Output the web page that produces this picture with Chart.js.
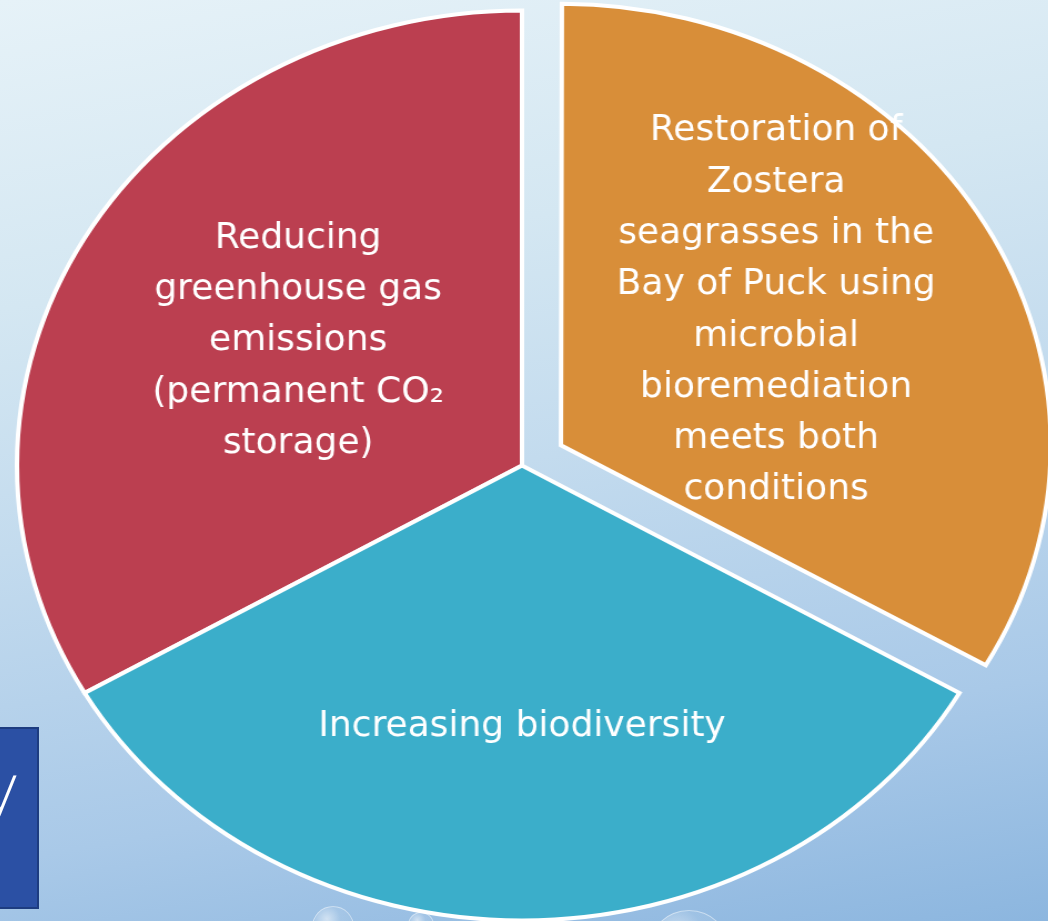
<!DOCTYPE html>
<html>
<head>
<meta charset="utf-8">
<script src="https://cdn.jsdelivr.net/npm/chart.js@4/dist/chart.umd.min.js"></script>
<style>
html,body{margin:0;padding:0;width:1048px;height:921px;overflow:hidden;}
body{position:relative;font-family:"DejaVu Sans",sans-serif;
  background:linear-gradient(170deg,#e6f2f8 0%,#d4e7f2 28%,#c3dbee 50%,#a9c9e8 78%,#8cb6df 100%);}
canvas.pie{position:absolute;left:0;top:0;transform-origin:522px 0;transform:scaleX(1.11);}
#box{position:absolute;left:-10px;top:727px;width:45px;height:178px;background:#2b50a4;border:2px solid #1d3c80;overflow:hidden;}
#box span{position:absolute;left:-11px;top:28px;font-size:66px;line-height:66px;color:#fff;font-family:"DejaVu Sans",sans-serif;font-weight:200;}
.bubble{position:absolute;border-radius:50%;border:1px solid rgba(255,255,255,0.45);
  background:radial-gradient(circle at 35% 30%,rgba(255,255,255,0.55) 0%,rgba(255,255,255,0.1) 35%,rgba(160,190,220,0.2) 100%);}
</style>
</head>
<body>
<div class="bubble" style="left:312px;top:906px;width:40px;height:40px;"></div>
<div class="bubble" style="left:408px;top:912px;width:24px;height:24px;"></div>
<div class="bubble" style="left:648px;top:910px;width:80px;height:80px;"></div>
<div id="box"><span>y</span></div>
<canvas id="pieA" class="pie" width="1048" height="921"></canvas>
<canvas id="pieB" class="pie" width="1048" height="921"></canvas>
<script>
// ---- data ----
const categories = [
  "Reducing greenhouse gas emissions (permanent CO₂ storage)",
  "Restoration of Zostera seagrasses in the Bay of Puck using microbial bioremediation meets both conditions",
  "Increasing biodiversity"
];
const labelLines = [
  ["Reducing", "greenhouse gas", "emissions", "(permanent CO₂", "storage)"],
  ["Restoration of", "Zostera", "seagrasses in the", "Bay of Puck using", "microbial", "bioremediation", "meets both", "conditions"],
  ["Increasing biodiversity"]
];
const shares = [1, 1, 1];
const sliceColors = ["#BB3F50", "#D88E39", "#3BAECA"];

// ---- layout ----
const SX = 1.11;

const sliceLabels = {
  id: 'sliceLabels',
  afterDatasetsDraw(chart, args, opts) {
    const meta = chart.getDatasetMeta(0);
    const ctx = chart.ctx;
    meta.data.forEach((arc, i) => {
      if (!opts.show[i]) return;
      const p = arc.getProps(['x', 'y', 'startAngle', 'endAngle', 'outerRadius'], true);
      const mid = (p.startAngle + p.endAngle) / 2;
      const circ = p.endAngle - p.startAngle;
      const off = (arc.options.offset || 0) / 4;
      const fix = 1 - Math.sin(Math.min(Math.PI, circ));
      const t = off * (1 + fix);
      const vx = p.x + Math.cos(mid) * t, vy = p.y + Math.sin(mid) * t;
      const a = mid + opts.shift[i] * Math.PI / 180;
      const d = opts.fraction[i] * p.outerRadius;
      const cx = vx + Math.cos(a) * d, cy = vy + Math.sin(a) * d;
      const lines = labelLines[i];
      ctx.save();
      ctx.translate(cx, cy);
      ctx.scale(1 / SX, 1);
      ctx.font = '36px "DejaVu Sans"';
      ctx.fillStyle = '#ffffff';
      ctx.textAlign = 'center';
      ctx.textBaseline = 'middle';
      const lh = 51.3;
      lines.forEach((ln, k) => ctx.fillText(ln, 0, (k - (lines.length - 1) / 2) * lh));
      ctx.restore();
    });
  }
};

function makeChart(id, colors, borders, offsets, radius, show) {
  return new Chart(document.getElementById(id), {
    type: 'pie',
    data: {
      labels: categories,
      datasets: [{
        data: shares,
        backgroundColor: colors,
        borderColor: '#ffffff',
        borderWidth: borders,
        borderJoinStyle: 'miter',
        offset: offsets
      }]
    },
    options: {
      responsive: false,
      animation: false,
      devicePixelRatio: 1,
      events: [],
      rotation: -120,
      radius: radius,
      layout: { padding: { left: 0, right: 4, top: 10, bottom: 0 } },
      plugins: {
        legend: { display: false },
        tooltip: { enabled: false },
        sliceLabels: { show: show, fraction: [0.521, 0.529, 0.574], shift: [1.7, -4.9, 0] }
      }
    },
    plugins: [sliceLabels]
  });
}

makeChart('pieA',
  [sliceColors[0], 'rgba(0,0,0,0)', sliceColors[2]],
  [4, 0, 4], [0, 0, 0], 455, [true, false, true]);
makeChart('pieB',
  ['rgba(0,0,0,0)', sliceColors[1], 'rgba(0,0,0,0)'],
  [0, 4, 0], [0, 162, 0], 436, [false, true, false]);
</script>
</body>
</html>
